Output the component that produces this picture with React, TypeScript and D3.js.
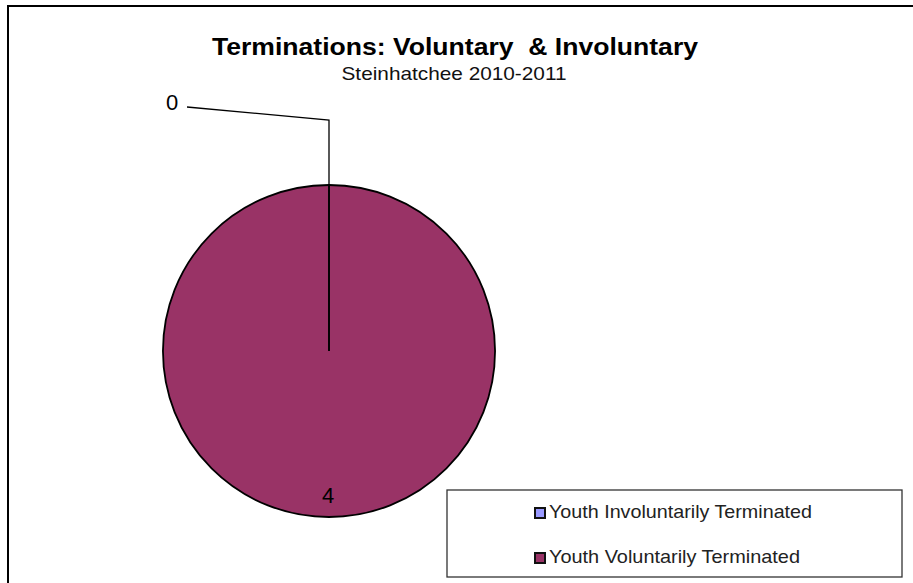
import React from "react";
import * as d3 from "d3";

const categories = ["Youth Involuntarily Terminated", "Youth Voluntarily Terminated"];
const values = [0, 4];
const colors = ["#9999FF", "#993366"];
const title = "Terminations: Voluntary  & Involuntary";
const subtitle = "Steinhatchee 2010-2011";

const W = 913;
const H = 583;
const FONT = "'Liberation Sans', Arial, sans-serif";

export default function App() {
  const cx = 329;
  const cy = 351;
  const r = 166;
  const pie = d3.pie<number>().sort(null).value((d) => d).startAngle(0).endAngle(2 * Math.PI);
  const arcs = pie(values);
  const arc = d3.arc<d3.PieArcDatum<number>>().innerRadius(0).outerRadius(r);

  const labelArcs = arcs.map((a, i) => {
    const mid = (a.startAngle + a.endAngle) / 2;
    const px = Math.sin(mid) * r;
    const py = -Math.cos(mid) * r;
    return { a, i, mid, px, py };
  });

  const legendX = 447;
  const legendY = 490;
  const legendW = 455;
  const legendH = 87;
  const legendTextLen = [263, 251];

  return (
    <svg
      width={W}
      height={H}
      style={{ position: "absolute", left: 0, top: 0, background: "#fff" }}
      fontFamily={FONT}
    >
      <rect x={0} y={0} width={W} height={H} fill="#fff" />
      <rect x={8} y={6} width={W + 20} height={H + 20} fill="none" stroke="#000" strokeWidth={2} />

      <text x={455} y={55} textAnchor="middle" fontSize={24.5} fontWeight="bold" fill="#000"
        textLength={486} lengthAdjust="spacingAndGlyphs" style={{ whiteSpace: "pre" }}>
        {title}
      </text>
      <text x={454} y={80} textAnchor="middle" fontSize={19} fill="#111"
        textLength={225} lengthAdjust="spacingAndGlyphs" style={{ whiteSpace: "pre" }}>
        {subtitle}
      </text>

      <g transform={`translate(${cx},${cy})`}>
        {arcs.map((a, i) => (
          <path key={i} d={arc(a) || ""} fill={colors[i]} stroke="#000" strokeWidth={1.8} strokeLinejoin="round" />
        ))}
        {arcs.map((a, i) => {
          const x = Math.sin(a.startAngle) * r;
          const y = -Math.cos(a.startAngle) * r;
          return <line key={"b" + i} x1={0} y1={0} x2={x} y2={y} stroke="#000" strokeWidth={1.6} />;
        })}
        {labelArcs.map(({ a, i, px, py }) => {
          if (a.value === 0) {
            const elbowY = py - 65;
            const lx = -142;
            const ly = py - 78;
            return (
              <g key={i}>
                <polyline points={`${px},${py} ${px},${elbowY} ${lx},${ly}`} fill="none" stroke="#000" strokeWidth={1.3} />
                <text x={lx - 15} y={ly - 3} textAnchor="middle" dominantBaseline="middle" fontSize={22} fill="#000">
                  {a.value}
                </text>
              </g>
            );
          }
          const k = (r - 20) / r;
          return (
            <text key={i} x={px * k - 1} y={py * k} textAnchor="middle" dominantBaseline="middle" fontSize={22} fill="#000">
              {a.value}
            </text>
          );
        })}
      </g>

      <rect x={legendX} y={legendY} width={legendW} height={legendH} fill="#fff" stroke="#333" strokeWidth={1.3} />
      {categories.map((c, i) => {
        const baseY = legendY + 28 + i * 45;
        return (
          <g key={c}>
            <rect x={535} y={baseY - 10} width={10} height={10} fill={colors[i]} stroke="#111" strokeWidth={2} />
            <text x={549} y={baseY} fontSize={18.5} fill="#222" textLength={legendTextLen[i]} lengthAdjust="spacingAndGlyphs">
              {c}
            </text>
          </g>
        );
      })}
    </svg>
  );
}
